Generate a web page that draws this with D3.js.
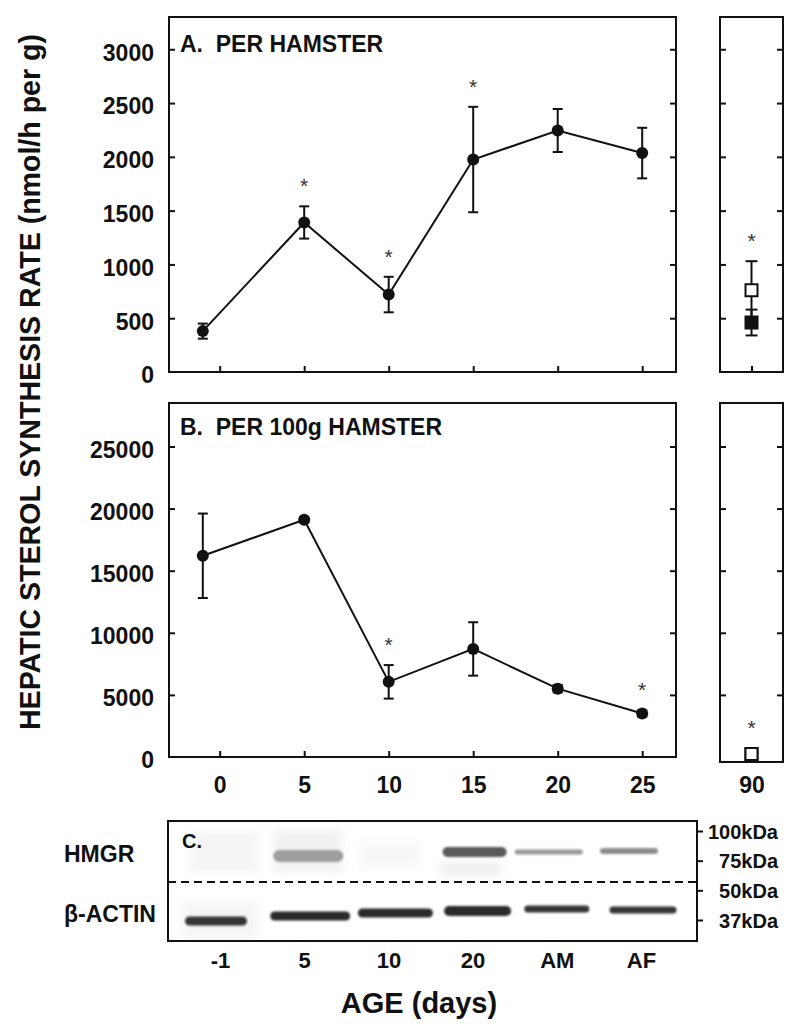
<!DOCTYPE html>
<html><head><meta charset="utf-8">
<script src="https://cdn.jsdelivr.net/npm/d3@7/dist/d3.min.js"></script>
<style>body{margin:0;background:#fff}</style>
</head><body>
<svg id="c" width="800" height="1027" xmlns="http://www.w3.org/2000/svg"></svg>
<script>
// ---------------- DATA ----------------
const days = [-1, 5, 10, 15, 20, 25];
const perHamster = [380, 1390, 720, 1975, 2245, 2035];
const perHamsterErr = [70, 150, 165, 490, 200, 235];
const perHamsterSig = [false, true, true, true, false, false];
const per100g = [16200, 19100, 6050, 8700, 5500, 3500];
const per100gErr = [3400, 200, 1350, 2150, 300, 250];
const per100gSig = [false, false, true, false, false, true];

const adultAge = ["90"];
const adultGroups = ["filled", "open"];
const adultPerHamster = [460, 760];
const adultPerHamsterErr = [120, 270];
const adultPerHamsterSig = true;
const adultPer100g = [180, 230];
const adultPer100gErr = [40, 60];
const adultPer100gSig = true;

const ticksA = [0, 500, 1000, 1500, 2000, 2500, 3000];
const ticksB = [0, 5000, 10000, 15000, 20000, 25000];
const dayTicks = [0, 5, 10, 15, 20, 25];

const lanes = ["-1", "5", "10", "20", "AM", "AF"];
const hmgrDensity = [0.03, 0.42, 0.02, 0.72, 0.45, 0.5];
const actinDensity = [0.88, 0.92, 0.92, 0.92, 0.88, 0.88];
const markers = ["100kDa", "75kDa", "50kDa", "37kDa"];

const titleA = "A.  PER HAMSTER";
const titleB = "B.  PER 100g HAMSTER";
const yTitle = "HEPATIC STEROL SYNTHESIS RATE (nmol/h per g)";
const xTitle = "AGE (days)";

// ---------------- DRAW ----------------
const FONT = "'Liberation Sans', Arial, Helvetica, sans-serif";
const svg = d3.select("#c");
const defs = svg.append("defs");
defs.append("filter").attr("id", "blur").attr("x", "-20%").attr("y", "-100%").attr("width", "140%").attr("height", "300%")
  .append("feGaussianBlur").attr("stdDeviation", 1.3);
defs.append("filter").attr("id", "blur2").attr("x", "-30%").attr("y", "-60%").attr("width", "160%").attr("height", "220%")
  .append("feGaussianBlur").attr("stdDeviation", 5);

const xL = d3.scaleLinear().domain([-3, 27]).range([169, 676]);
const xR = d3.scalePoint().domain(adultAge).range([720, 783]).padding(0.5);
const fmt = d3.format("d");

function styleAxis(g, withText) {
  g.select(".domain").remove();
  g.selectAll(".tick line").attr("stroke", "#111").attr("stroke-width", 2);
  g.selectAll(".tick text").attr("font-family", FONT).attr("font-weight", "bold")
    .attr("font-size", 23).attr("fill", "#111");
  if (!withText) g.selectAll(".tick text").remove();
}

function panel(opt) {
  const y = opt.y;
  const [top, bottom] = [opt.top, opt.bottom];
  svg.append("rect").attr("x", xL.range()[0]).attr("y", top)
    .attr("width", xL.range()[1] - xL.range()[0]).attr("height", bottom - top)
    .attr("fill", "none").attr("stroke", "#111").attr("stroke-width", 2);
  svg.append("rect").attr("x", xR.range()[0]).attr("y", top)
    .attr("width", xR.range()[1] - xR.range()[0]).attr("height", opt.rBottom - top)
    .attr("fill", "none").attr("stroke", "#111").attr("stroke-width", 2);

  const gl = svg.append("g").attr("transform", `translate(${xL.range()[0]},0)`)
    .call(d3.axisLeft(y).tickValues(opt.ticks).tickFormat(fmt).tickSize(-6).tickPadding(15));
  styleAxis(gl, true);
  gl.selectAll(".tick text").attr("dy", "0.47em");
  gl.selectAll(".tick").filter(d => d === 0).select("line").remove();
  const gr = svg.append("g").attr("transform", `translate(${xL.range()[1]},0)`)
    .call(d3.axisRight(y).tickValues(opt.ticks.filter(d => d > 0)).tickSize(-6));
  styleAxis(gr, false);
  const gb = svg.append("g").attr("transform", `translate(0,${bottom})`)
    .call(d3.axisBottom(xL).tickValues(dayTicks).tickFormat(fmt).tickSize(-6).tickPadding(20));
  styleAxis(gb, opt.xLabels);
  const rl = svg.append("g").attr("transform", `translate(${xR.range()[0]},0)`)
    .call(d3.axisRight(y).tickValues(opt.ticks.filter(d => d > 0)).tickSize(6));
  styleAxis(rl, false);
  const rr = svg.append("g").attr("transform", `translate(${xR.range()[1]},0)`)
    .call(d3.axisLeft(y).tickValues(opt.ticks.filter(d => d > 0)).tickSize(6));
  styleAxis(rr, false);
  const rb = svg.append("g").attr("transform", `translate(0,${opt.rBottom})`)
    .call(d3.axisBottom(xR).tickSize(-6).tickPadding(opt.xLabels ? 15 : 0));
  styleAxis(rb, opt.xLabels);

  svg.append("text").attr("x", 180).attr("y", opt.titleY)
    .attr("font-family", FONT).attr("font-weight", "bold").attr("font-size", 23)
    .attr("fill", "#111").attr("xml:space", "preserve").style("white-space", "pre")
    .text(opt.title);

  const pts = days.map((d, i) => ({ d, v: opt.mean[i], e: opt.err[i], s: opt.sig[i] }));
  const eb = svg.append("g").attr("stroke", "#111").attr("stroke-width", 2);
  pts.forEach(p => {
    const x = xL(p.d);
    eb.append("line").attr("x1", x).attr("x2", x).attr("y1", y(p.v - p.e)).attr("y2", y(p.v + p.e));
    [p.v - p.e, p.v + p.e].forEach(v => eb.append("line").attr("x1", x - 5).attr("x2", x + 5).attr("y1", y(v)).attr("y2", y(v)));
  });
  svg.append("path").datum(pts)
    .attr("d", d3.line().x(p => xL(p.d)).y(p => y(p.v)))
    .attr("fill", "none").attr("stroke", "#111").attr("stroke-width", 2);
  svg.append("g").selectAll("circle").data(pts).join("circle")
    .attr("cx", p => xL(p.d)).attr("cy", p => y(p.v)).attr("r", 6).attr("fill", "#111");
  svg.append("g").selectAll("text").data(pts.filter(p => p.s)).join("text")
    .attr("x", p => xL(p.d)).attr("y", p => y(p.v + p.e) - 24 + 11)
    .attr("text-anchor", "middle").attr("font-family", FONT).attr("font-size", 21)
    .attr("fill", "#333").text("*");

  const cx = xR(adultAge[0]);
  const ag = svg.append("g");
  adultGroups.forEach((g, i) => {
    const v = opt.adult[i], e = opt.adultErr[i];
    const lo = Math.max(0, v - e);
    ag.append("line").attr("x1", cx).attr("x2", cx).attr("y1", Math.min(y(lo), opt.rBottom)).attr("y2", y(v + e))
      .attr("stroke", "#111").attr("stroke-width", 2);
    [lo, v + e].forEach(vv => {
      if (y(vv) < opt.rBottom - 2) ag.append("line").attr("x1", cx - 6).attr("x2", cx + 6).attr("y1", y(vv)).attr("y2", y(vv))
        .attr("stroke", "#111").attr("stroke-width", 2);
    });
  });
  adultGroups.forEach((g, i) => {
    const v = opt.adult[i];
    const cy = Math.min(y(v), opt.rBottom - 8);
    ag.append("rect").attr("x", cx - 6).attr("y", cy - 6).attr("width", 12).attr("height", 12)
      .attr("fill", g === "filled" ? "#111" : "#fff").attr("stroke", "#111").attr("stroke-width", 2);
  });
  if (opt.adultSig) {
    const topV = d3.max(opt.adult.map((v, i) => v + opt.adultErr[i]));
    const ty = Math.min(y(topV), opt.rBottom - 14) - 24 + 11;
    svg.append("text").attr("x", cx).attr("y", ty).attr("text-anchor", "middle")
      .attr("font-family", FONT).attr("font-size", 21).attr("fill", "#333").text("*");
  }
}

const yA = d3.scaleLinear().domain([0, 3300]).range([372, 17]);
const yB = d3.scaleLinear().domain([0, 28500]).range([757, 403]);

panel({ y: yA, top: 17, bottom: 372, rBottom: 372, ticks: ticksA, xLabels: false, title: titleA, titleY: 52,
  mean: perHamster, err: perHamsterErr, sig: perHamsterSig,
  adult: adultPerHamster, adultErr: adultPerHamsterErr, adultSig: adultPerHamsterSig });
panel({ y: yB, top: 403, bottom: 757, rBottom: 762, ticks: ticksB, xLabels: true, title: titleB, titleY: 435,
  mean: per100g, err: per100gErr, sig: per100gSig,
  adult: adultPer100g, adultErr: adultPer100gErr, adultSig: adultPer100gSig });

svg.append("text").attr("transform", "translate(40,382) rotate(-90)")
  .attr("text-anchor", "middle").attr("font-family", FONT).attr("font-weight", "bold")
  .attr("font-size", 30).attr("fill", "#111")
  .attr("textLength", 696).attr("lengthAdjust", "spacingAndGlyphs").text(yTitle);

// ---------------- BLOT ----------------
const lane = d3.scalePoint().domain(lanes).range([220, 641]);
const blot = { x0: 168, x1: 697, y0: 821, y1: 941, split: 882 };
const bg = svg.append("g");
const patchStyle = {
  "-1": { top: [-30, 832, 68, 40, "#f5f5f5"], bot: [-38, 902, 76, 36, "#f5f5f5"] },
  "5": { top: [-30, 830, 68, 42, "#f1f1f1"] },
  "10": { top: [-28, 842, 60, 26, "#f8f8f8"] },
  "20": { top: [-32, 863, 60, 12, "#ececec"] }
};
Object.entries(patchStyle).forEach(([k, s]) => {
  Object.values(s).forEach(p => bg.append("rect").attr("x", lane(k) + p[0]).attr("y", p[1])
    .attr("width", p[2]).attr("height", p[3]).attr("fill", p[4]).attr("filter", "url(#blur2)"));
});
const grey = d3.scaleLinear().domain([0, 1]).range(["#ffffff", "#1a1a1a"]);
const hmgrStyle = { "-1": [0, 856, 60, 8], "5": [4, 856, 70, 12], "10": [6, 856, 62, 6], "20": [2, 852, 64, 10], "AM": [-8, 852, 68, 5], "AF": [-12, 851, 58, 6] };
const actinStyle = { "-1": [-4, 921, 62, 9], "5": [6, 916, 80, 9], "10": [7, 913, 75, 9], "20": [5, 911, 67, 10], "AM": [0, 909, 65, 7], "AF": [2, 910, 67, 7] };
lanes.forEach((l, i) => {
  const h = hmgrStyle[l];
  if (hmgrDensity[i] > 0.05)
    bg.append("rect").attr("x", lane(l) + h[0] - h[2] / 2).attr("y", h[1] - h[3] / 2)
      .attr("width", h[2]).attr("height", h[3]).attr("rx", h[3] / 2)
      .attr("fill", grey(hmgrDensity[i])).attr("filter", "url(#blur)");
  const a = actinStyle[l];
  bg.append("rect").attr("x", lane(l) + a[0] - a[2] / 2).attr("y", a[1] - a[3] / 2)
    .attr("width", a[2]).attr("height", a[3]).attr("rx", a[3] / 2)
    .attr("fill", grey(actinDensity[i])).attr("filter", "url(#blur)");
});
svg.append("rect").attr("x", blot.x0).attr("y", blot.y0).attr("width", blot.x1 - blot.x0).attr("height", blot.y1 - blot.y0)
  .attr("fill", "none").attr("stroke", "#111").attr("stroke-width", 2);
svg.append("line").attr("x1", blot.x0).attr("x2", blot.x1).attr("y1", blot.split).attr("y2", blot.split)
  .attr("stroke", "#111").attr("stroke-width", 2).attr("stroke-dasharray", "8,5");
svg.append("text").attr("x", 182).attr("y", 848).attr("font-family", FONT).attr("font-weight", "bold")
  .attr("font-size", 20).attr("fill", "#111").text("C.");
[["HMGR", 862], ["β-ACTIN", 922]].forEach(([t, yy]) =>
  svg.append("text").attr("x", 64).attr("y", yy).attr("font-family", FONT).attr("font-weight", "bold")
    .attr("font-size", 23).attr("fill", "#111").text(t));
const mk = d3.scalePoint().domain(markers).range([831, 920]);
const mg = svg.append("g").attr("transform", `translate(${blot.x1},0)`)
  .call(d3.axisRight(mk).tickSize(6).tickPadding(4));
mg.select(".domain").remove();
mg.selectAll(".tick line").attr("stroke", "#111").attr("stroke-width", 2);
mg.selectAll(".tick text").attr("x", 81).attr("text-anchor", "end").attr("dy", "0.36em")
  .attr("font-family", FONT).attr("font-weight", "bold").attr("font-size", 20).attr("fill", "#111");
const lg = svg.append("g").attr("transform", `translate(0,${blot.y1})`)
  .call(d3.axisBottom(lane).tickSize(0).tickPadding(11));
lg.select(".domain").remove();
lg.selectAll(".tick text").attr("font-family", FONT).attr("font-weight", "bold").attr("font-size", 22).attr("fill", "#111");

svg.append("text").attr("x", 419).attr("y", 1013).attr("text-anchor", "middle")
  .attr("font-family", FONT).attr("font-weight", "bold").attr("font-size", 29).attr("fill", "#111").text(xTitle);
</script>
</body></html>
